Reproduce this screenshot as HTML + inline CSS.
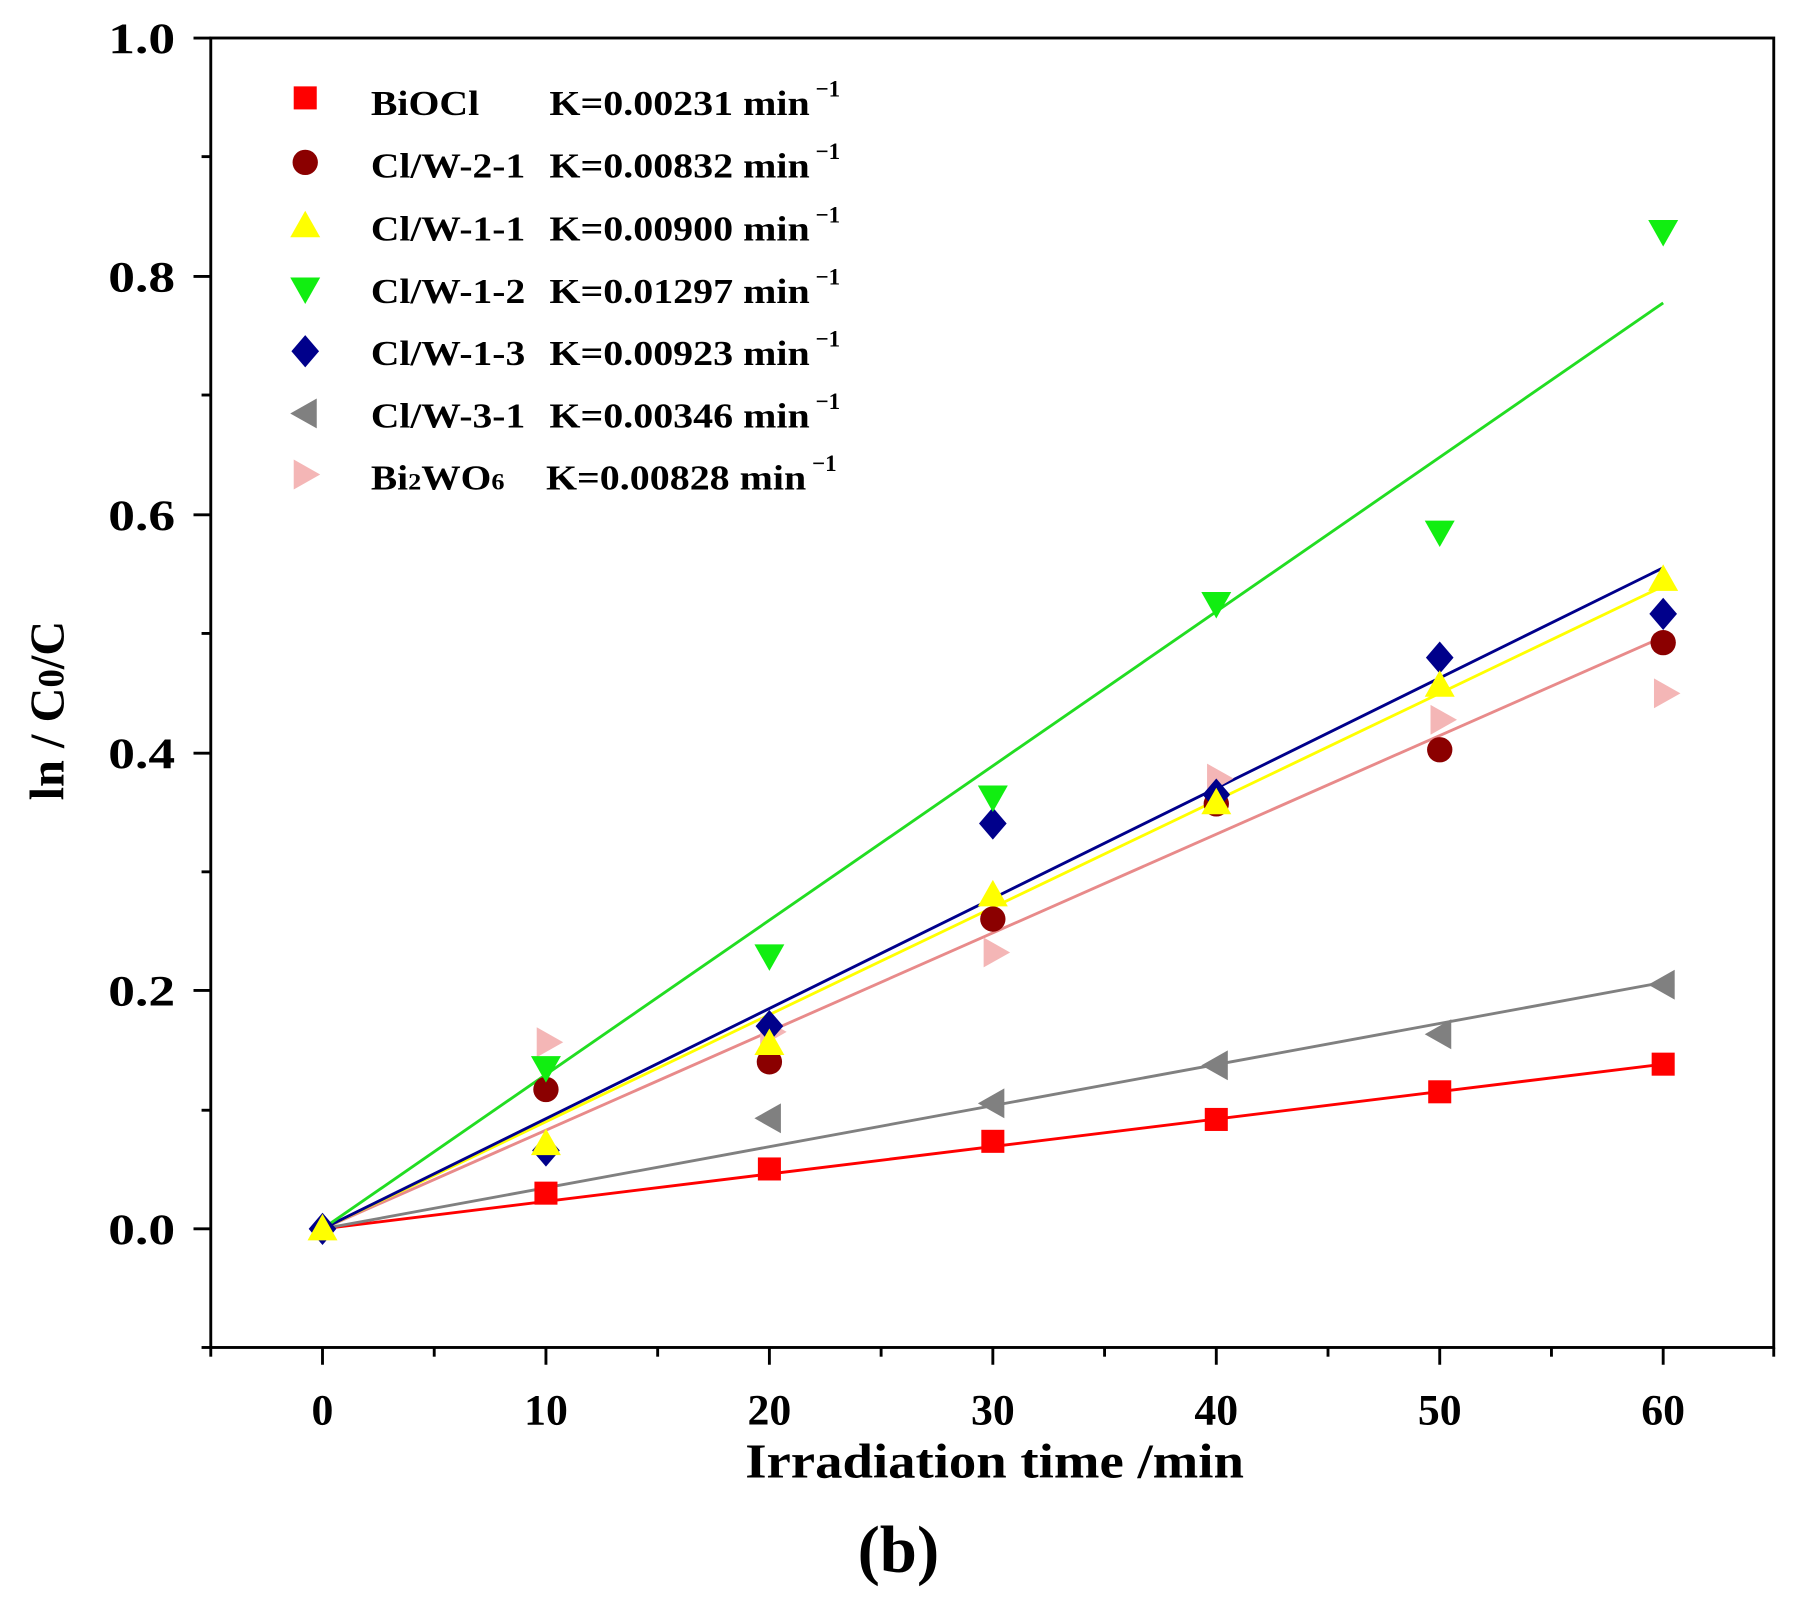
<!DOCTYPE html>
<html><head><style>html,body{margin:0;padding:0;background:#fff}svg{display:block}</style></head>
<body>
<svg width="1806" height="1602" viewBox="0 0 1568 1391" preserveAspectRatio="none" xmlns="http://www.w3.org/2000/svg" font-family="Liberation Serif, serif" font-weight="bold">
<rect width="1568" height="1391" fill="#fff"/>
<rect x="183" y="33" width="1357" height="1137" fill="none" stroke="#000" stroke-width="2.5"/>
<g stroke="#000" stroke-width="2.5">
<line x1="168" y1="33" x2="183" y2="33"/><line x1="168" y1="240" x2="183" y2="240"/><line x1="168" y1="447" x2="183" y2="447"/><line x1="168" y1="654" x2="183" y2="654"/><line x1="168" y1="860" x2="183" y2="860"/><line x1="168" y1="1067" x2="183" y2="1067"/>
<line x1="175" y1="136" x2="183" y2="136"/><line x1="175" y1="343" x2="183" y2="343"/><line x1="175" y1="550" x2="183" y2="550"/><line x1="175" y1="757" x2="183" y2="757"/><line x1="175" y1="964" x2="183" y2="964"/><line x1="175" y1="1170" x2="183" y2="1170"/>
<line x1="280" y1="1170" x2="280" y2="1185"/><line x1="474" y1="1170" x2="474" y2="1185"/><line x1="668" y1="1170" x2="668" y2="1185"/><line x1="862" y1="1170" x2="862" y2="1185"/><line x1="1056" y1="1170" x2="1056" y2="1185"/><line x1="1250" y1="1170" x2="1250" y2="1185"/><line x1="1444" y1="1170" x2="1444" y2="1185"/>
<line x1="183" y1="1170" x2="183" y2="1178"/><line x1="377" y1="1170" x2="377" y2="1178"/><line x1="571" y1="1170" x2="571" y2="1178"/><line x1="765" y1="1170" x2="765" y2="1178"/><line x1="959" y1="1170" x2="959" y2="1178"/><line x1="1153" y1="1170" x2="1153" y2="1178"/><line x1="1347" y1="1170" x2="1347" y2="1178"/><line x1="1540" y1="1170" x2="1540" y2="1178"/>
</g>
<g font-size="38">
<text x="94" y="46" textLength="58" lengthAdjust="spacingAndGlyphs">1.0</text><text x="94" y="253" textLength="58" lengthAdjust="spacingAndGlyphs">0.8</text><text x="94" y="460" textLength="58" lengthAdjust="spacingAndGlyphs">0.6</text><text x="94" y="667" textLength="58" lengthAdjust="spacingAndGlyphs">0.4</text><text x="94" y="873" textLength="58" lengthAdjust="spacingAndGlyphs">0.2</text><text x="94" y="1080" textLength="58" lengthAdjust="spacingAndGlyphs">0.0</text>
</g>
<g font-size="38" text-anchor="middle">
<text x="280" y="1237">0</text><text x="474" y="1237">10</text><text x="668" y="1237">20</text><text x="862" y="1237">30</text><text x="1056" y="1237">40</text><text x="1250" y="1237">50</text><text x="1444" y="1237">60</text>
</g>
<text x="647" y="1283" font-size="42" textLength="433" lengthAdjust="spacingAndGlyphs">Irradiation time /min</text>
<text transform="translate(55,617) rotate(-90)" font-size="42" text-anchor="middle">ln / C<tspan font-size="32">0</tspan>/C</text>
<text x="780" y="1365" font-size="58" text-anchor="middle">(b)</text>
<g stroke-width="2.5">
<line x1="280" y1="1067" x2="1444" y2="924" stroke="#f00"/>
<line x1="280" y1="1067" x2="1444" y2="853" stroke="#808080"/>
<line x1="280" y1="1067" x2="1444" y2="553" stroke="#e88a8a"/>
<line x1="280" y1="1067" x2="1444" y2="509" stroke="#ff0"/>
<line x1="280" y1="1067" x2="1444" y2="493" stroke="#00008b"/>
<line x1="280" y1="1067" x2="1444" y2="263" stroke="#2d2"/>
</g>
<defs>
<rect id="sq" x="-10" y="-10" width="20" height="20" fill="#f00"/>
<circle id="ci" r="11" fill="#8b0000"/>
<path id="tu" d="M0,-13 L13,10 L-13,10Z" fill="#ff0"/>
<path id="td" d="M0,13 L13,-10 L-13,-10Z" fill="#1e1"/>
<path id="di" d="M0,-14 L12,0 L0,14 L-12,0Z" fill="#00008b"/>
<path id="tl" d="M-13,0 L10,-13 L10,13Z" fill="#808080"/>
<path id="tr" d="M13,0 L-10,-13 L-10,13Z" fill="#f4b6b6"/>
</defs>
<g>
<use href="#tr" x="476" y="905"/><use href="#tr" x="670" y="896"/><use href="#tr" x="864" y="827"/><use href="#tr" x="1058" y="676"/><use href="#tr" x="1252" y="625"/><use href="#tr" x="1446" y="602"/>
<use href="#tl" x="668" y="971"/><use href="#tl" x="862" y="958"/><use href="#tl" x="1056" y="925"/><use href="#tl" x="1250" y="898"/><use href="#tl" x="1444" y="855"/>
<use href="#sq" x="474" y="1036"/><use href="#sq" x="668" y="1015"/><use href="#sq" x="862" y="991"/><use href="#sq" x="1056" y="972"/><use href="#sq" x="1250" y="948"/><use href="#sq" x="1444" y="924"/>
<use href="#ci" x="474" y="946"/><use href="#ci" x="668" y="922"/><use href="#ci" x="862" y="798"/><use href="#ci" x="1056" y="698"/><use href="#ci" x="1250" y="651"/><use href="#ci" x="1444" y="558"/>
<use href="#di" x="280" y="1067"/><use href="#di" x="474" y="999"/><use href="#di" x="668" y="891"/><use href="#di" x="862" y="715"/><use href="#di" x="1056" y="690"/><use href="#di" x="1250" y="571"/><use href="#di" x="1444" y="533"/>
<use href="#td" x="474" y="927"/><use href="#td" x="668" y="830"/><use href="#td" x="862" y="692"/><use href="#td" x="1056" y="524"/><use href="#td" x="1250" y="462"/><use href="#td" x="1444" y="201"/>
<use href="#tu" x="280" y="1067"/><use href="#tu" x="474" y="993"/><use href="#tu" x="668" y="906"/><use href="#tu" x="862" y="777"/><use href="#tu" x="1056" y="697"/><use href="#tu" x="1250" y="595"/><use href="#tu" x="1444" y="503"/>
</g>
<use href="#sq" x="265" y="85"/><use href="#ci" x="265" y="141"/><use href="#tu" x="265" y="196"/><use href="#td" x="265" y="251"/><use href="#di" x="265" y="305"/><use href="#tl" x="265" y="359"/><use href="#tr" x="265" y="412"/>
<g font-size="30">
<text x="322" y="100" textLength="94" lengthAdjust="spacingAndGlyphs">BiOCl</text><text x="477" y="100" textLength="226" lengthAdjust="spacingAndGlyphs">K=0.00231 min</text><text x="708" y="84" font-size="20">−1</text>
<text x="322" y="154" textLength="134" lengthAdjust="spacingAndGlyphs">Cl/W-2-1</text><text x="477" y="154" textLength="226" lengthAdjust="spacingAndGlyphs">K=0.00832 min</text><text x="708" y="138" font-size="20">−1</text>
<text x="322" y="209" textLength="134" lengthAdjust="spacingAndGlyphs">Cl/W-1-1</text><text x="477" y="209" textLength="226" lengthAdjust="spacingAndGlyphs">K=0.00900 min</text><text x="708" y="193" font-size="20">−1</text>
<text x="322" y="263" textLength="134" lengthAdjust="spacingAndGlyphs">Cl/W-1-2</text><text x="477" y="263" textLength="226" lengthAdjust="spacingAndGlyphs">K=0.01297 min</text><text x="708" y="247" font-size="20">−1</text>
<text x="322" y="317" textLength="134" lengthAdjust="spacingAndGlyphs">Cl/W-1-3</text><text x="477" y="317" textLength="226" lengthAdjust="spacingAndGlyphs">K=0.00923 min</text><text x="708" y="301" font-size="20">−1</text>
<text x="322" y="371" textLength="134" lengthAdjust="spacingAndGlyphs">Cl/W-3-1</text><text x="477" y="371" textLength="226" lengthAdjust="spacingAndGlyphs">K=0.00346 min</text><text x="708" y="355" font-size="20">−1</text>
<text x="322" y="425" textLength="116" lengthAdjust="spacingAndGlyphs">Bi<tspan font-size="20">2</tspan>WO<tspan font-size="20">6</tspan></text><text x="474" y="425" textLength="226" lengthAdjust="spacingAndGlyphs">K=0.00828 min</text><text x="705" y="409" font-size="20">−1</text>
</g>
</svg>
</body></html>
